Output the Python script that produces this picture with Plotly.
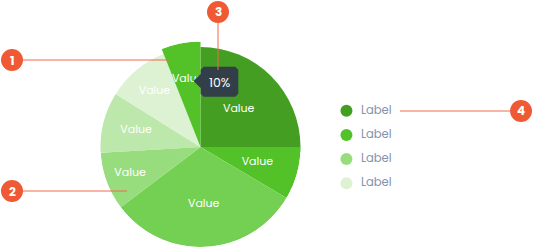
import math
import plotly.graph_objects as go

W, H = 533, 248

# ---- data ----
slice_values = [25.0, 8.5, 31.2, 9.4, 9.8, 10.1, 6.0]
slice_text = ["Value"] * 7
highlight_index = 6
tooltip_text = "10%"

legend_labels = ["Label", "Label", "Label", "Label"]

callout_numbers = ["1", "2", "3", "4"]

# ---- styles ----
slice_colors = ["#449e22", "#52c228", "#74d052", "#97dd7e", "#bde8ab", "#dcf2d3", "#52c228"]
legend_colors = ["#449e22", "#52c228", "#97dd7e", "#dcf2d3"]
label_radius = [0.54, 0.59, 0.57, 0.75, 0.665, 0.72, 0.685]   # fraction of pie radius
FONT = "Poppins, Inter, 'Open Sans', sans-serif"
ORANGE = "#ef5a35"


def px(x):
    return x / W


def py(y):
    return 1 - y / H


fig = go.Figure()

cx, cy, R = 200.5, 147.0, 100.0      # pie centre / radius in pixels
grow = 1.055                          # radial growth of highlighted slice
R2 = R * grow

total = sum(slice_values)
cum = [sum(slice_values[:i]) for i in range(len(slice_values))]
theta_mid = [360 * (c + v / 2) / total for c, v in zip(cum, slice_values)]
theta_w = [360 * v / total for v in slice_values]
radii = [grow if i == highlight_index else 1.0 for i in range(len(slice_values))]

# two half-polars: top one (slightly past horizontal) with larger range, bottom one
for sp in ["polar", "polar2"]:
    fig.add_trace(go.Barpolar(
        r=radii, theta=theta_mid, width=theta_w,
        marker=dict(color=slice_colors, line=dict(width=0)),
        showlegend=False, hoverinfo="skip", subplot=sp,
    ))


def in_top(t):
    t = t % 360
    return t < 90 or t > 270


top_idx = [i for i, t in enumerate(theta_mid) if in_top(t)]
bot_idx = [i for i, t in enumerate(theta_mid) if not in_top(t)]
for sp, idx in [("polar", top_idx), ("polar2", bot_idx)]:
    fig.add_trace(go.Scatterpolar(
        r=[label_radius[i] for i in idx], theta=[theta_mid[i] for i in idx],
        text=[slice_text[i] for i in idx], mode="text", cliponaxis=True,
        textfont=dict(color="white", size=11, family=FONT),
        showlegend=False, hoverinfo="skip", subplot=sp,
    ))

# legend as scatter on hidden cartesian axes
ys = list(range(len(legend_labels)))
fig.add_trace(go.Scatter(
    x=[0] * len(ys), y=ys, mode="markers",
    marker=dict(size=12, color=legend_colors),
    showlegend=False, hoverinfo="skip",
))
fig.add_trace(go.Scatter(
    x=[0.55] * len(ys), y=ys, mode="text", text=legend_labels, textposition="middle right",
    textfont=dict(color="#8292ab", size=11.5, family=FONT),
    showlegend=False, hoverinfo="skip",
))

shapes = []
annotations = []

# tooltip with pointer
x0, x1, y0, y1, rr = 200.7, 238.3, 66.7, 96.7, 3
tip = (193.5, 81)
pts = [
    (x0 + rr, y0), (x1 - rr, y0), (x1, y0 + rr), (x1, y1 - rr), (x1 - rr, y1),
    (x0 + rr, y1), (x0, y1 - rr), (x0, 88), tip, (x0, 74), (x0, y0 + rr),
]
path = "M " + " L ".join("%.5f,%.5f" % (px(x), py(y)) for x, y in pts) + " Z"
shapes.append(dict(type="path", xref="paper", yref="paper", path=path,
                   fillcolor="#323e48", line=dict(width=0), layer="above"))
annotations.append(dict(x=px((x0 + x1) / 2), y=py((y0 + y1) / 2 + 0.5), xref="paper", yref="paper",
                        xanchor="center", yanchor="middle",
                        text=tooltip_text, showarrow=False,
                        font=dict(color="white", size=12.5, family=FONT)))

# callouts: (circle center, line start, line end)
callouts = [
    ((12, 60), (23, 60), (170, 60)),
    ((12, 191), (23, 191), (127, 191)),
    ((218, 12), (218, 23), (218, 70)),
    ((521, 111), (510, 111), (400, 111)),
]
for num, (c, a, b) in zip(callout_numbers, callouts):
    shapes.append(dict(type="line", xref="paper", yref="paper",
                       x0=px(a[0]), y0=py(a[1]), x1=px(b[0]), y1=py(b[1]),
                       line=dict(color="#f0684a", width=1), layer="above"))
    r = 11
    shapes.append(dict(type="circle", xref="paper", yref="paper",
                       x0=px(c[0] - r), x1=px(c[0] + r), y0=py(c[1] + r), y1=py(c[1] - r),
                       fillcolor=ORANGE, line=dict(width=0), layer="above"))
    annotations.append(dict(x=px(c[0]), y=py(c[1]), xref="paper", yref="paper",
                            xanchor="center", yanchor="middle",
                            text="<b>%s</b>" % num, showarrow=False,
                            font=dict(color="white", size=12, family=FONT)))

ext = math.sin(math.radians(3))
polar_common = dict(
    bgcolor="rgba(0,0,0,0)", bargap=0,
    angularaxis=dict(visible=False, direction="clockwise", rotation=90),
)
fig.update_layout(
    width=W, height=H,
    margin=dict(l=0, r=0, t=0, b=0),
    paper_bgcolor="white", plot_bgcolor="white",
    showlegend=False,
    polar=dict(
        domain=dict(x=[px(cx - R2), px(cx + R2)], y=[py(cy + ext * R2), py(cy - R2)]),
        sector=[-3, 183],
        radialaxis=dict(visible=False, range=[0, grow]),
        **polar_common,
    ),
    polar2=dict(
        domain=dict(x=[px(cx - R), px(cx + R)], y=[py(cy + R), py(cy)]),
        sector=[180, 360],
        radialaxis=dict(visible=False, range=[0, 1]),
        **polar_common,
    ),
    xaxis=dict(domain=[0.6, 1.0], range=[-1, 7], visible=False, fixedrange=True),
    yaxis=dict(domain=[0, 1], range=[5.674, -4.574], visible=False, fixedrange=True),
    shapes=shapes,
    annotations=annotations,
)

fig.write_html("out.html")
